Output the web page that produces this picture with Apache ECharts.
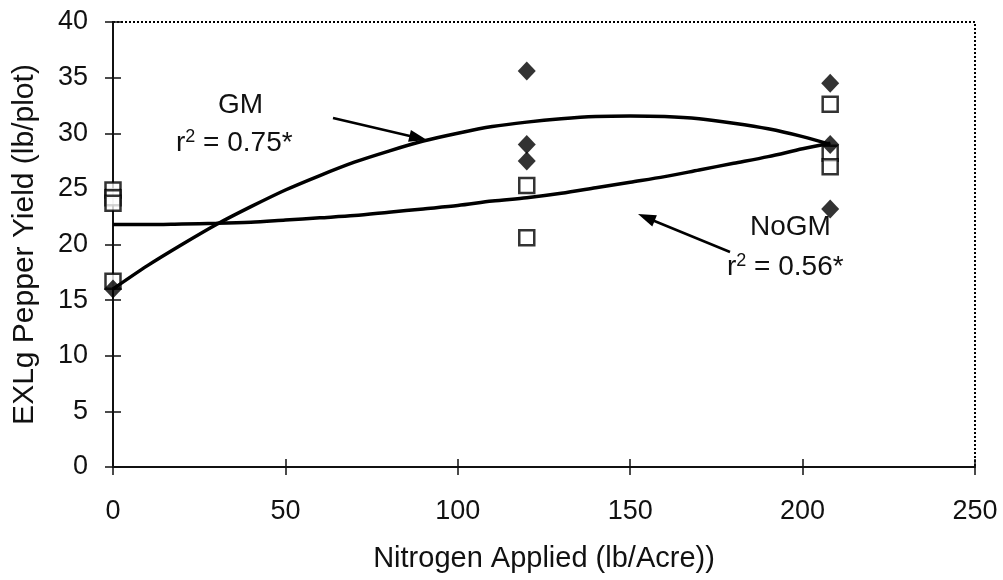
<!DOCTYPE html>
<html><head><meta charset="utf-8">
<script src="https://cdn.jsdelivr.net/npm/echarts@6/dist/echarts.min.js"></script>
<style>html,body{margin:0;padding:0;background:#fff}#c{width:1003px;height:580px}</style>
</head><body><div id="c"></div>
<script>
var xTicks = [0, 50, 100, 150, 200, 250];
var yTicks = [0, 5, 10, 15, 20, 25, 30, 35, 40];
var gmX = [0, 120, 120, 120, 208, 208, 208];
var gmY = [16.0, 35.6, 29.0, 27.5, 34.5, 29.0, 23.2];
var noGmX = [0, 0, 0, 0, 120, 120, 208, 208, 208];
var noGmY = [24.9, 24.2, 23.7, 16.7, 25.3, 20.6, 32.6, 28.2, 27.0];
var fitX = [0, 10, 20, 30, 40, 50, 60, 70, 80, 90, 100, 110, 120, 130, 140, 150, 160, 170, 180, 190, 200, 208];
var gmFit = [16.0, 18.1, 20.0, 21.8, 23.4, 24.9, 26.2, 27.4, 28.4, 29.3, 30.0, 30.6, 31.0, 31.3, 31.5, 31.55, 31.5, 31.3, 30.9, 30.4, 29.7, 29.0];
var noGmFit = [21.8, 21.8, 21.85, 21.9, 22.0, 22.2, 22.4, 22.6, 22.9, 23.2, 23.5, 23.9, 24.2, 24.6, 25.1, 25.6, 26.1, 26.7, 27.3, 27.9, 28.6, 29.1];

function pairs(xs, ys){ return xs.map(function(x,i){ return [x, ys[i]]; }); }

var font = 'Liberation Sans, Arial, sans-serif';
var chart = echarts.init(document.getElementById('c'), null, {renderer:'canvas'});
var baseX = {type:'value', min:xTicks[0], max:xTicks[xTicks.length-1], interval:50, splitLine:{show:false}};
var baseY = {type:'value', min:yTicks[0], max:yTicks[yTicks.length-1], interval:5, splitLine:{show:false}};
var richR2 = {
  r:{fontSize:28, fontFamily:font, color:'#111'},
  s:{fontSize:18, fontFamily:font, color:'#111', verticalAlign:'top', padding:[0,0,12,0]},
  t:{fontSize:28, fontFamily:font, color:'#111'}
};
chart.setOption({
  animation:false,
  backgroundColor:'#fff',
  grid:{left:113, right:28, top:22, bottom:113, show:true, borderColor:'#000', borderWidth:2, borderType:[2,2], backgroundColor:'transparent'},
  xAxis:[
    Object.assign({}, baseX, {
      name:'Nitrogen Applied (lb/Acre))', nameLocation:'middle', nameGap:77,
      nameTextStyle:{fontFamily:font, fontSize:29, color:'#111'},
      axisLine:{lineStyle:{color:'#111', width:2}},
      axisTick:{length:8, lineStyle:{color:'#111', width:1.5}},
      axisLabel:{fontFamily:font, fontSize:27, color:'#111', margin:31}
    }),
    Object.assign({}, baseX, {position:'bottom', axisLine:{show:false}, axisLabel:{show:false},
      axisTick:{inside:true, length:8, lineStyle:{color:'#111', width:1.5}}})
  ],
  yAxis:[
    Object.assign({}, baseY, {
      name:'EXLg Pepper Yield (lb/plot)', nameLocation:'middle', nameGap:73,
      nameTextStyle:{fontFamily:font, fontSize:30, color:'#111'},
      axisLine:{lineStyle:{color:'#111', width:2}},
      axisTick:{length:8, lineStyle:{color:'#111', width:1.5}},
      axisLabel:{fontFamily:font, fontSize:27, color:'#111', margin:25}
    }),
    Object.assign({}, baseY, {position:'left', axisLine:{show:false}, axisLabel:{show:false},
      axisTick:{inside:true, length:8, lineStyle:{color:'#111', width:1.5}}})
  ],
  series:[
    {name:'NoGM', type:'scatter', data:pairs(noGmX, noGmY), symbol:'rect', symbolSize:15,
     itemStyle:{color:'#fff', borderColor:'#000', borderWidth:2.5}, z:3},
    {name:'NoGM fit', type:'line', data:pairs(fitX, noGmFit), smooth:0.3, showSymbol:false,
     lineStyle:{color:'#000', width:3.5}, z:4},
    {name:'GM fit', type:'line', data:pairs(fitX, gmFit), smooth:0.3, showSymbol:false,
     lineStyle:{color:'#000', width:3.5}, z:4},
    {name:'GM', type:'scatter', data:pairs(gmX, gmY), symbol:'diamond', symbolSize:[18,19],
     itemStyle:{color:'#000'}, z:5}
  ],
  graphic:[
    {type:'text', x:218, y:105, style:{text:'GM', font:'28px '+font, fill:'#111', verticalAlign:'middle'}},
    {type:'text', x:176, y:143, style:{text:'{r|r}{s|2}{t| = 0.75*}', font:'28px '+font, fill:'#111', verticalAlign:'middle', rich:richR2}},
    {type:'text', x:750, y:227, style:{text:'NoGM', font:'28px '+font, fill:'#111', verticalAlign:'middle'}},
    {type:'text', x:727, y:267, style:{text:'{r|r}{s|2}{t| = 0.56*}', font:'28px '+font, fill:'#111', verticalAlign:'middle', rich:richR2}},
    {type:'line', shape:{x1:333, y1:118, x2:412, y2:136.5}, style:{stroke:'#000', lineWidth:2.5}},
    {type:'polygon', shape:{points:[[427,140],[408.1,141.7],[410.9,130.1]]}, style:{fill:'#000'}},
    {type:'line', shape:{x1:730, y1:252, x2:652, y2:220}, style:{stroke:'#000', lineWidth:2.5}},
    {type:'polygon', shape:{points:[[638,214],[656.9,215.3],[652.3,226.4]]}, style:{fill:'#000'}}
  ]
});
</script></body></html>
